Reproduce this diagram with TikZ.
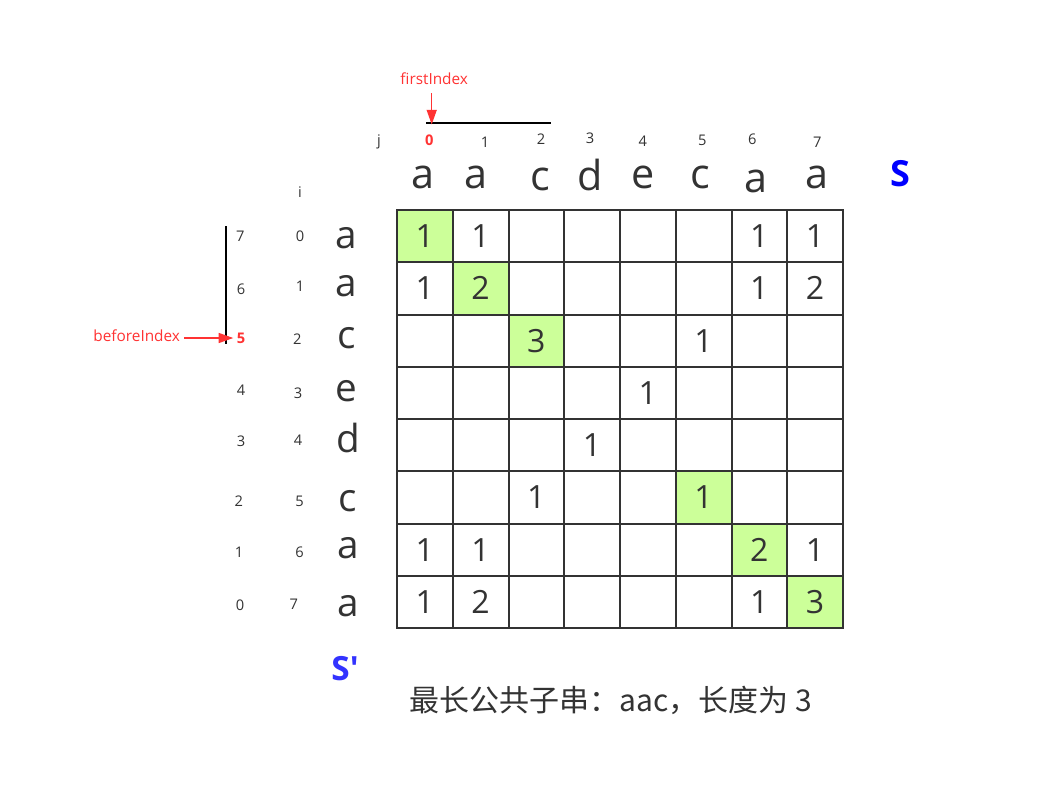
\documentclass[tikz,border=0pt]{standalone}
\usepackage{fontspec}
\setmainfont{Open Sans}
\newfontfamily\cjk{Noto Sans CJK SC}
\usetikzlibrary{arrows.meta}
\definecolor{txt}{HTML}{333333}
\definecolor{hl}{HTML}{CCFF99}
\definecolor{rd}{HTML}{FF3333}
\definecolor{bl}{HTML}{0000FF}
\definecolor{bltwo}{HTML}{3333FF}
\begin{document}
\begin{tikzpicture}[x=0.75pt,y=-0.75pt,
  cell/.style={draw=txt, line width=1.5pt, minimum width=41.81pt, minimum height=39.19pt, inner sep=0pt, anchor=center},
  num/.style={font=\fontsize{24}{24}\selectfont, text=txt, inner sep=0pt},
  hdr/.style={font=\fontsize{31}{31}\selectfont, text=txt, anchor=base, inner sep=0pt},
  lft/.style={font=\fontsize{29}{29}\selectfont, text=txt, anchor=base, inner sep=0pt},
  lab/.style={font=\fontsize{11}{11}\selectfont, text=txt, inner sep=0pt},
  redlab/.style={font=\fontsize{11}{11}\selectfont\bfseries, text=rd, inner sep=0pt},
  rednote/.style={font=\fontsize{11.5}{11.5}\selectfont, text=rd, inner sep=0pt},
  bar/.style={draw=black, line width=1.5pt},
  rarrow/.style={draw=rd, line width=1.1pt, -{Triangle[length=11pt,width=7.5pt]}}
]
\useasboundingbox (0,0) rectangle (1042,793);
\fill[white] (0,0) rectangle (1042,793);

% highlighted cells
\foreach \k in {0,1,2,5,6,7}
  \fill[hl] ({397+55.75*\k},{210+52.25*\k}) rectangle ++(55.75,52.25);

% grid cells
\foreach \r in {0,...,7}
  \foreach \c in {0,...,7}
    \node[cell] (c\r\c) at ({397+55.75*(\c+0.5)},{210+52.25*(\r+0.5)}) {};

% values
\foreach \r/\c/\v in {0/0/1,0/1/1,0/6/1,0/7/1,
                      1/0/1,1/1/2,1/6/1,1/7/2,
                      2/2/3,2/5/1,
                      3/4/1,
                      4/3/1,
                      5/2/1,5/5/1,
                      6/0/1,6/1/1,6/6/2,6/7/1,
                      7/0/1,7/1/2,7/6/1,7/7/3}
  \node[num] (v\r\c) at (c\r\c) {\v};

% column string S
\node[hdr] (s0) at (423,188) {a};
\node[hdr] (s1) at (475.7,188) {a};
\node[hdr] (s2) at (540,190) {c};
\node[hdr] (s3) at (590,190) {d};
\node[hdr] (s4) at (643,188) {e};
\node[hdr] (s5) at (700.7,188) {c};
\node[hdr] (s6) at (755.7,192.7) {a};
\node[hdr] (s7) at (817,188) {a};

% column indices
\node[lab] (jl) at (379,141.7) {j};
\node[redlab] (j0) at (429.3,140.7) {0};
\node[lab] (j1) at (485,142.7) {1};
\node[lab] (j2) at (541,138.7) {2};
\node[lab] (j3) at (590,138.3) {3};
\node[lab] (j4) at (642.7,141.7) {4};
\node[lab] (j5) at (702.3,140.7) {5};
\node[lab] (j6) at (752.3,139.3) {6};
\node[lab] (j7) at (817.3,142.7) {7};

\node[font=\fontsize{27}{27}\selectfont\bfseries, text=bl, inner sep=0pt] (S) at (900,174) {S};

% row string S'
\node[lft] (t0) at (346.7,248.3) {a};
\node[lft] (t1) at (346.5,296.7) {a};
\node[lft] (t2) at (346.5,348.3) {c};
\node[lft] (t3) at (346.8,401.7) {e};
\node[lft] (t4) at (348,452.7) {d};
\node[lft] (t5) at (348,511.7) {c};
\node[lft] (t6) at (348,558.3) {a};
\node[lft] (t7) at (348,616) {a};

% row indices i
\node[lab] (il) at (300,191.7) {i};
\node[lab] (i0) at (300,236) {0};
\node[lab] (i1) at (300,286) {1};
\node[lab] (i2) at (297.3,339.3) {2};
\node[lab] (i3) at (298,393.3) {3};
\node[lab] (i4) at (298,440) {4};
\node[lab] (i5) at (299.6,501.7) {5};
\node[lab] (i6) at (299.6,552.7) {6};
\node[lab] (i7) at (293.7,604.3) {7};

% reversed indices
\node[lab] (r7) at (240.3,236.7) {7};
\node[lab] (r6) at (241,289.3) {6};
\node[redlab] (r5) at (241,338.3) {5};
\node[lab] (r4) at (241,390.7) {4};
\node[lab] (r3) at (241,441.7) {3};
\node[lab] (r2) at (238.8,501) {2};
\node[lab] (r1) at (239,552.7) {1};
\node[lab] (r0) at (240,605.7) {0};

\node[font=\fontsize{25}{25}\selectfont\bfseries, text=bltwo, inner sep=0pt, anchor=base] (Sp) at (345,680) {S\textquotesingle};

% firstIndex marker
\node[rednote] (fi) at (434.2,78.3) {firstIndex};
\coordinate (fistart) at (431.7,93.3);
\coordinate (fitip) at (431.7,124.5);
\coordinate (tl) at (426,123.3);
\coordinate (tr) at (550.7,123.3);
\draw[bar] (tl) -- (tr);
\draw[rarrow] (fistart) -- (fitip);

% beforeIndex marker
\node[rednote] (bi) at (136.7,336) {beforeIndex};
\coordinate (bistart) at (184,338);
\coordinate (bitip) at (233.3,338);
\coordinate (vt) at (225.7,226);
\coordinate (vb) at (225.7,344.3);
\draw[bar] (vt) -- (vb);
\draw[rarrow] (bistart) -- (bitip);

% caption
\node[font=\cjk\fontsize{22.5}{22.5}\selectfont, text=txt, anchor=base west, inner sep=0pt] (cap) at (409,711.7) {最长公共子串：aac，长度为 3};
\end{tikzpicture}
\end{document}
